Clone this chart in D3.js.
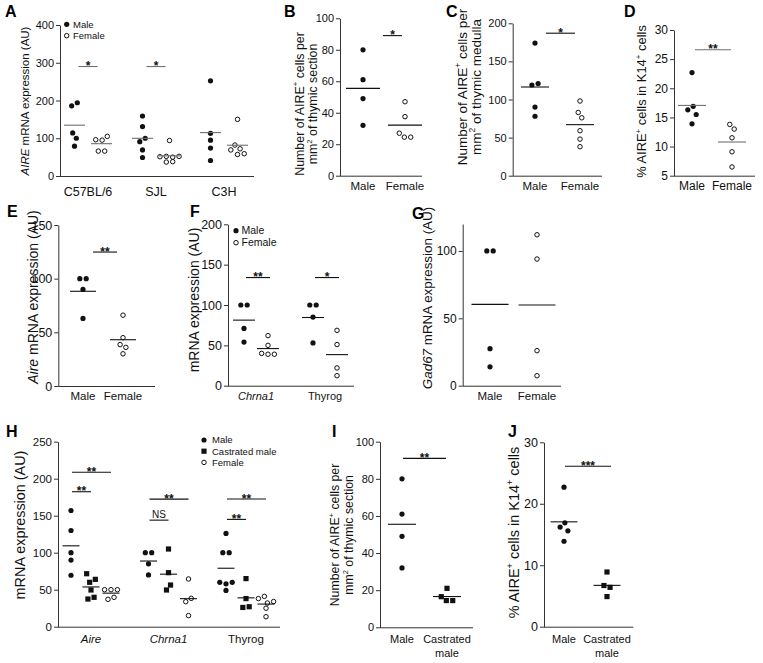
<!DOCTYPE html>
<html><head><meta charset="utf-8">
<script src="https://cdn.jsdelivr.net/npm/d3@7"></script>
<style>body{margin:0;background:#fff}svg{display:block}</style>
</head><body><svg id="c" width="763" height="663"></svg>
<script>
// ================= DATA =================
// Panel A
const aStrains = ["C57BL/6", "SJL", "C3H"];
const aTicks = [0, 100, 200, 300, 400];
const aMale = [[186, 194, 114, 100, 79], [159, 131, 91, 100, 69, 49], [252, 113, 95, 74, 41]];
const aFemale = [[96, 95, 105, 66, 66], [94, 51, 52, 50, 52, 37, 38], [150, 69, 82, 72, 57, 59]];
const aSigStrain = ["C57BL/6", "SJL"];
const aSigValue = [290, 290];
const aSigText = ["*", "*"];
// Panel B
const bTicks = [0, 20, 40, 60, 80, 100];
const bMale = [80, 61, 49, 32];
const bFemale = [47, 37.5, 27, 24.5, 24.5];
const bSigValue = [89];
const bSigText = ["*"];
// Panel C
const cTicks = [0, 50, 100, 150, 200];
const cMale = [174, 119, 121, 90, 78];
const cFemale = [98, 83, 76, 59, 48, 38];
const cSigValue = [187];
const cSigText = ["*"];
// Panel D
const dTicks = [5, 10, 15, 20, 25, 30];
const dMale = [22.7, 16.3, 16.9, 15.5, 13.9];
const dFemale = [13.8, 13.0, 11.5, 9.1, 6.5];
const dSigValue = [26.6];
const dSigText = ["**"];
// Panel E
const eTicks = [0, 50, 100, 150];
const eMale = [100, 100, 90, 63];
const eFemale = [66, 45, 38.6, 36, 30];
const eSigValue = [124.8];
const eSigText = ["**"];
// Panel F
const fGenes = ["Chrna1", "Thyrog"];
const fTicks = [0, 50, 100, 150, 200];
const fMale = [[100, 100, 71, 54], [100, 100, 85, 53]];
const fFemale = [[62, 50, 40, 39, 39], [68.6, 51, 22, 12.4]];
const fSigGene = ["Chrna1", "Thyrog"];
const fSigValue = [134, 134];
const fSigText = ["**", "*"];
// Panel G
const gTicks = [0, 50, 100];
const gMale = [100, 100, 27.5, 14];
const gFemale = [112, 94, 26, 7.4];
// Panel H
const hGenes = ["Aire", "Chrna1", "Thyrog"];
const hTicks = [0, 50, 100, 150, 200, 250];
const hMale = [[157, 130, 100, 90, 69.5], [100, 100, 85, 70], [126, 100, 100, 60, 58, 60, 49]];
const hCastrated = [[71.6, 60, 64, 49.6, 37.4, 39.7], [105, 73, 49.6, 56.3], [65, 38, 26, 27]];
const hFemale = [[50, 50, 50, 37, 39.7], [64.5, 33.8, 38.3, 15], [38, 41, 32, 34, 25, 13.5]];
const hSigGene = ["Aire", "Aire", "Chrna1", "Chrna1", "Thyrog", "Thyrog"];
const hSigTo = ["Castrated male", "Female", "Castrated male", "Female", "Castrated male", "Female"];
const hSigValue = [182.4, 208.8, 144, 172.4, 145, 172.5];
const hSigText = ["**", "**", "NS", "**", "**", "**"];
// Panel I
const iTicks = [0, 20, 40, 60, 80, 100];
const iMale = [80, 61, 49, 32];
const iCastrated = [21, 16.5, 14.4, 14.4];
const iSigValue = [91];
const iSigText = ["**"];
// Panel J
const jTicks = [0, 10, 20, 30];
const jMale = [22.7, 16.2, 16.9, 15.6, 13.9];
const jCastrated = [8.9, 6.7, 6.4, 4.9];
const jSigValue = [26.1];
const jSigText = ["***"];

// ================= DRAWING =================
const FONT = '"Liberation Sans", Arial, Helvetica, sans-serif';
const svg = d3.select("#c");
const INK = "#111";
const AX = "#333";

function swarm(vals, y) {
  const D = 6.4, T = 6, maxRow = 4, minSep = 3;
  const pts = vals.map((v, i) => ({ v, i, py: y(v), dx: 0 }));
  const sorted = pts.slice().sort((a, b) => a.py - b.py);
  const clusters = [];
  let cur = [sorted[0]];
  for (let k = 1; k < sorted.length; k++) {
    if (sorted[k].py - sorted[k - 1].py < T) cur.push(sorted[k]);
    else { clusters.push(cur); cur = [sorted[k]]; }
  }
  clusters.push(cur);
  clusters.forEach(c => {
    for (let s = 0; s < c.length; s += maxRow) {
      const row = c.slice(s, s + maxRow).sort((a, b) => a.i - b.i);
      let x = 0; row[0].dx = 0;
      for (let j = 1; j < row.length; j++) {
        const dy = Math.abs(row[j].py - row[j - 1].py);
        x += Math.max(minSep, Math.sqrt(Math.max(0, D * D - dy * dy)));
        row[j].dx = x;
      }
      row.forEach(p => p.dx -= x / 2);
    }
  });
  return pts;
}

function addParts(t, parts, fs) {
  let shifted = false;
  parts.forEach(p => {
    const s = t.append("tspan").text(p[0]);
    if (p[1] === "i") s.attr("font-style", "italic");
    if (p[1] === "sup") { s.attr("font-size", fs * 0.62).attr("dy", -fs * 0.42); shifted = true; }
    else if (shifted) { s.attr("dy", fs * 0.42); shifted = false; }
  });
}

function symbol(g, kind, x, y) {
  if (kind === "square") {
    g.append("rect").attr("x", x - 2.6).attr("y", y - 2.6).attr("width", 5.2).attr("height", 5.2).attr("fill", INK);
  } else if (kind === "open") {
    g.append("circle").attr("cx", x).attr("cy", y).attr("r", 2.25).attr("fill", "#fff").attr("stroke", INK).attr("stroke-width", 1);
  } else {
    g.append("circle").attr("cx", x).attr("cy", y).attr("r", 2.6).attr("fill", INK);
  }
}

function drawPanel(P) {
  const g = svg.append("g");
  const y = d3.scaleLinear().domain(P.yDomain).range(P.yRange);
  const gx = d3.scalePoint().domain(P.groups).range(P.groupRange);
  const sx = d3.scalePoint().domain(P.subs.map(s => s.name)).range(P.subRange);
  const lineCol = P.lineColor || INK;

  const ax = g.append("g").attr("transform", `translate(${P.axisX[0]},0)`)
    .call(d3.axisLeft(y).tickValues(P.ticks).tickSize(4).tickSizeOuter(0).tickPadding(2));
  ax.select(".domain").attr("stroke", AX);
  ax.selectAll(".tick line").attr("stroke", AX);
  ax.selectAll(".tick text").attr("font-size", P.tickFs).attr("font-family", FONT).attr("fill", INK);
  const y0 = y(P.yDomain[0]);
  g.append("line").attr("x1", P.axisX[0]).attr("x2", P.axisX[1]).attr("y1", y0 + 0.5).attr("y2", y0 + 0.5).attr("stroke", AX);

  P.subs.forEach(s => {
    s.vals.forEach((vals, gi) => {
      const cx = gx(P.groups[gi]) + sx(s.name);
      swarm(vals, y).forEach(p => symbol(g, s.sym, cx + p.dx, p.py));
      const m = d3.mean(vals);
      g.append("line").attr("x1", cx - P.meanHalf).attr("x2", cx + P.meanHalf)
        .attr("y1", y(m)).attr("y2", y(m)).attr("stroke", lineCol).attr("stroke-width", 1.1);
    });
  });

  if (P.sig) {
    P.sig.value.forEach((v, k) => {
      const gc = gx(P.sig.group[k]);
      const x1 = gc + sx(P.sig.from[k]) + P.barInset[0];
      const x2 = gc + sx(P.sig.to[k]) + P.barInset[1];
      const by = y(v);
      g.append("line").attr("x1", x1).attr("x2", x2).attr("y1", by).attr("y2", by).attr("stroke", lineCol).attr("stroke-width", 1.1);
      const txt = P.sig.text[k];
      const isNS = txt === "NS";
      g.append("text").attr("x", (x1 + x2) / 2).attr("y", isNS ? by - 2.5 : by + 3.5)
        .attr("text-anchor", "middle").attr("font-family", FONT)
        .attr("font-size", isNS ? 10 : 12).attr("font-weight", isNS ? "normal" : "bold")
        .attr("fill", INK).text(txt);
    });
  }

  const cats = P.groups.length > 1
    ? P.groups.map(n => ({ lines: [n], x: gx(n) }))
    : P.subs.map(s => ({ lines: s.label, x: gx(P.groups[0]) + sx(s.name) }));
  cats.forEach(c => {
    c.lines.forEach((ln, li) => {
      g.append("text").attr("x", c.x).attr("y", P.catY + li * 13.5).attr("text-anchor", "middle")
        .attr("font-family", FONT).attr("font-size", P.catFs).attr("fill", INK)
        .attr("font-style", (P.italicCats || []).includes(ln) ? "italic" : "normal").text(ln);
    });
  });

  P.title.lines.forEach((parts, li) => {
    const t = g.append("text").attr("transform", `translate(${P.title.xs[li]},${P.title.yc}) rotate(-90)`)
      .attr("text-anchor", "middle").attr("font-family", FONT).attr("font-size", P.title.fs).attr("fill", INK);
    addParts(t, parts, P.title.fs);
  });

  if (P.legend) {
    P.legend.items.forEach((it, k) => {
      const ly = P.legend.y + k * P.legend.dy;
      symbol(g, it[1], P.legend.x, ly);
      g.append("text").attr("x", P.legend.tx).attr("y", ly).attr("dy", "0.36em")
        .attr("font-family", FONT).attr("font-size", P.legend.fs).attr("fill", INK).text(it[0]);
    });
  }

  g.append("text").attr("x", P.letter[1]).attr("y", P.letter[2]).attr("font-family", FONT)
    .attr("font-size", 16).attr("font-weight", "900").attr("fill", "#000").text(P.letter[0]);
}

const aireLine = [["Number of AIRE"], ["+", "sup"], [" cells per"]];
const k14Line = [["% AIRE"], ["+", "sup"], [" cells in K14"], ["+", "sup"], [" cells"]];
const legMF = [["Male", "filled"], ["Female", "open"]];

const panels = [
  { letter: ["A", 5, 17], yDomain: [0, 400], yRange: [176, 25], ticks: aTicks, axisX: [60, 254],
    groups: aStrains, groupRange: [88, 224], subRange: [-13.5, 13.5],
    subs: [{ name: "Male", sym: "filled", vals: aMale }, { name: "Female", sym: "open", vals: aFemale }],
    meanHalf: 10.5, lineColor: "#6f6f6f", tickFs: 11, catFs: 12.5, catY: 196,
    title: { lines: [[["AIRE", "i"], [" mRNA expression (AU)"]]], xs: [29], yc: 101, fs: 11.5 },
    legend: { x: 66.7, tx: 73, y: 24.3, dy: 11.4, fs: 9.5, items: legMF },
    sig: { group: aSigStrain, from: ["Male", "Male"], to: ["Female", "Female"], value: aSigValue, text: aSigText }, barInset: [4, -4] },
  { letter: ["B", 284, 17], yDomain: [0, 100], yRange: [175.7, 18.3], ticks: bTicks, axisX: [340, 422],
    groups: [""], groupRange: [384, 384], subRange: [-21, 21],
    subs: [{ name: "Male", label: ["Male"], sym: "filled", vals: [bMale] }, { name: "Female", label: ["Female"], sym: "open", vals: [bFemale] }],
    meanHalf: 17, tickFs: 11, catFs: 11.5, catY: 190,
    title: { lines: [aireLine, [["mm"], ["2", "sup"], [" of thymic section"]]], xs: [303.5, 317], yc: 104, fs: 12.4 },
    sig: { group: [""], from: ["Male"], to: ["Female"], value: bSigValue, text: bSigText }, barInset: [20, -3] },
  { letter: ["C", 446, 17], yDomain: [0, 200], yRange: [175.7, 23.3], ticks: cTicks, axisX: [512.7, 602],
    groups: [""], groupRange: [557.5, 557.5], subRange: [-22.5, 22.5],
    subs: [{ name: "Male", label: ["Male"], sym: "filled", vals: [cMale] }, { name: "Female", label: ["Female"], sym: "open", vals: [cFemale] }],
    meanHalf: 14, tickFs: 11, catFs: 11.5, catY: 190,
    title: { lines: [aireLine, [["mm"], ["2", "sup"], [" of thymic medulla"]]], xs: [466.5, 480.5], yc: 87, fs: 13.5 },
    sig: { group: [""], from: ["Male"], to: ["Female"], value: cSigValue, text: cSigText }, barInset: [11, -5] },
  { letter: ["D", 624, 17], yDomain: [5, 30], yRange: [175.7, 30], ticks: dTicks, axisX: [674, 755],
    groups: [""], groupRange: [712, 712], subRange: [-20, 20],
    subs: [{ name: "Male", label: ["Male"], sym: "filled", vals: [dMale] }, { name: "Female", label: ["Female"], sym: "open", vals: [dFemale] }],
    meanHalf: 14, lineColor: "#6f6f6f", tickFs: 12, catFs: 12, catY: 190,
    title: { lines: [k14Line], xs: [646], yc: 101.5, fs: 12.9 },
    sig: { group: [""], from: ["Male"], to: ["Female"], value: dSigValue, text: dSigText }, barInset: [3, -1] },
  { letter: ["E", 7, 217], yDomain: [0, 150], yRange: [386, 225], ticks: eTicks, axisX: [58.3, 155],
    groups: [""], groupRange: [103, 103], subRange: [-20, 20],
    subs: [{ name: "Male", label: ["Male"], sym: "filled", vals: [eMale] }, { name: "Female", label: ["Female"], sym: "open", vals: [eFemale] }],
    meanHalf: 13, tickFs: 12.5, catFs: 11.5, catY: 400,
    title: { lines: [[["Aire", "i"], [" mRNA expression (AU)"]]], xs: [37.5], yc: 297, fs: 14 },
    sig: { group: [""], from: ["Male"], to: ["Female"], value: eSigValue, text: eSigText }, barInset: [10, -6] },
  { letter: ["F", 190, 217], yDomain: [0, 200], yRange: [385.7, 224.3], ticks: fTicks, axisX: [228, 354],
    groups: fGenes, groupRange: [256, 325], subRange: [-12, 12],
    subs: [{ name: "Male", sym: "filled", vals: fMale }, { name: "Female", sym: "open", vals: fFemale }],
    meanHalf: 11, tickFs: 12.5, catFs: 11, catY: 400, italicCats: ["Chrna1"],
    title: { lines: [[["mRNA expression (AU)"]]], xs: [199], yc: 300, fs: 14 },
    legend: { x: 236, tx: 241.5, y: 230.7, dy: 12, fs: 10.5, items: legMF },
    sig: { group: fSigGene, from: ["Male", "Male"], to: ["Female", "Female"], value: fSigValue, text: fSigText }, barInset: [2, 2] },
  { letter: ["G", 412, 219], yDomain: [0, 120], yRange: [385.7, 224], ticks: gTicks, axisX: [462.7, 561],
    groups: [""], groupRange: [513.5, 513.5], subRange: [-23.5, 23.5],
    subs: [{ name: "Male", label: ["Male"], sym: "filled", vals: [gMale] }, { name: "Female", label: ["Female"], sym: "open", vals: [gFemale] }],
    meanHalf: 18.5, tickFs: 12, catFs: 11.5, catY: 400,
    title: { lines: [[["Gad67", "i"], [" mRNA expression (AU)"]]], xs: [432], yc: 298, fs: 13.4 } },
  { letter: ["H", 6, 437], yDomain: [0, 250], yRange: [626.7, 441.7], ticks: hTicks, axisX: [58, 280],
    groups: hGenes, groupRange: [91, 246], subRange: [-20, 20],
    subs: [{ name: "Male", sym: "filled", vals: hMale }, { name: "Castrated male", sym: "square", vals: hCastrated }, { name: "Female", sym: "open", vals: hFemale }],
    meanHalf: 8.5, tickFs: 11.5, catFs: 11.5, catY: 643, italicCats: ["Aire", "Chrna1"],
    title: { lines: [[["mRNA expression (AU)"]]], xs: [25], yc: 525, fs: 14.4 },
    legend: { x: 204, tx: 212, y: 440, dy: 11.2, fs: 9.5, items: [["Male", "filled"], ["Castrated male", "square"], ["Female", "open"]] },
    sig: { group: hSigGene, from: hSigGene.map(() => "Male"), to: hSigTo, value: hSigValue, text: hSigText }, barInset: [1, 0] },
  { letter: ["I", 332, 437], yDomain: [0, 100], yRange: [627.3, 441.7], ticks: iTicks, axisX: [380, 473],
    groups: [""], groupRange: [424.5, 424.5], subRange: [-22.5, 22.5],
    subs: [{ name: "Male", label: ["Male"], sym: "filled", vals: [iMale] }, { name: "Castrated male", label: ["Castrated", "male"], sym: "square", vals: [iCastrated] }],
    meanHalf: 14, tickFs: 11, catFs: 11, catY: 643,
    title: { lines: [aireLine, [["mm"], ["2", "sup"], [" of thymic section"]]], xs: [339, 353], yc: 535, fs: 12.3 },
    sig: { group: [""], from: ["Male"], to: ["Castrated male"], value: iSigValue, text: iSigText }, barInset: [1, -1] },
  { letter: ["J", 508, 437], yDomain: [0, 30], yRange: [626.7, 442.3], ticks: jTicks, axisX: [544, 633.3],
    groups: [""], groupRange: [585.5, 585.5], subRange: [-21.5, 21.5],
    subs: [{ name: "Male", label: ["Male"], sym: "filled", vals: [jMale] }, { name: "Castrated male", label: ["Castrated", "male"], sym: "square", vals: [jCastrated] }],
    meanHalf: 13.5, tickFs: 12.5, catFs: 11, catY: 643,
    title: { lines: [k14Line], xs: [519], yc: 532.5, fs: 14.5 },
    sig: { group: [""], from: ["Male"], to: ["Castrated male"], value: jSigValue, text: jSigText }, barInset: [1, 4] }
];

panels.forEach(drawPanel);
</script>
</body></html>
